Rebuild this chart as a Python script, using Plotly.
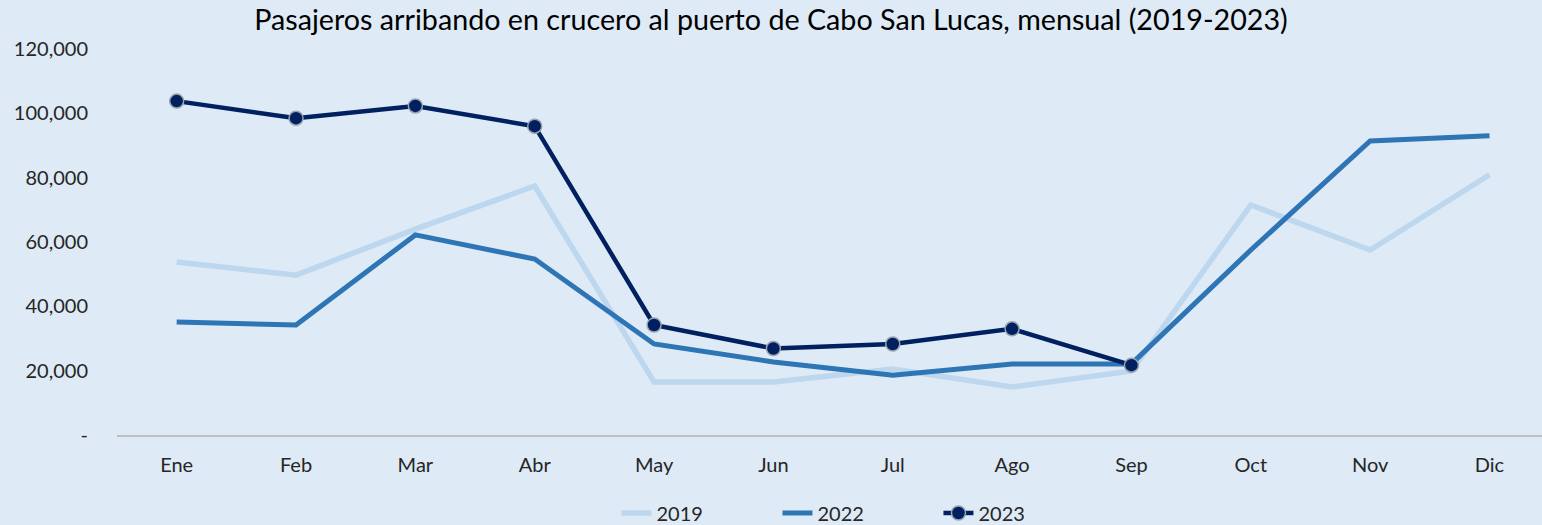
import plotly.graph_objects as go

months = ["Ene", "Feb", "Mar", "Abr", "May", "Jun", "Jul", "Ago", "Sep", "Oct", "Nov", "Dic"]
y2019 = [53800, 49700, 64000, 77400, 16500, 16500, 20500, 14900, 19900, 71500, 57500, 80900]
y2022 = [35100, 34200, 62200, 54700, 28300, 22700, 18600, 22100, 22100, 57500, 91400, 93000]
y2023 = [103800, 98500, 102300, 96000, 34200, 26900, 28300, 33000, 21700]

ytick_vals = [0, 20000, 40000, 60000, 80000, 100000, 120000]
ytick_text = ["-", "20,000", "40,000", "60,000", "80,000", "100,000", "120,000"]

title = "Pasajeros arribando en crucero al puerto de Cabo San Lucas, mensual (2019-2023)"

BG = "#DEEAF6"
FONT = "Lato"

fig = go.Figure()
fig.add_trace(go.Scatter(
    x=months, y=y2019, name="2019", mode="lines",
    line=dict(color="#BDD7EE", width=5.5),
))
fig.add_trace(go.Scatter(
    x=months, y=y2022, name="2022", mode="lines",
    line=dict(color="#2E75B6", width=5),
))
fig.add_trace(go.Scatter(
    x=months[:len(y2023)], y=y2023, name="2023", mode="lines+markers",
    line=dict(color="#002060", width=4.5),
    marker=dict(size=14, color="#002060", line=dict(color="#9AA3AF", width=1.5)),
))

fig.update_layout(
    width=1542, height=525,
    paper_bgcolor=BG, plot_bgcolor=BG,
    margin=dict(l=117, r=0, t=49, b=90, autoexpand=False),
    font=dict(family=FONT, size=20, color="#262626"),
    title=dict(text=title, x=0.5, xanchor="center", y=0.962, yanchor="middle",
               font=dict(family=FONT, size=28.7, color="#000000")),
    showlegend=True,
    legend=dict(orientation="h", x=0.3505, xanchor="left", y=-0.202, yanchor="middle",
                bgcolor="rgba(0,0,0,0)", font=dict(size=20, color="#262626"),
                entrywidth=116, entrywidthmode="pixels", traceorder="normal"),
    hovermode=False,
)
fig.update_xaxes(
    type="category", range=[-0.5, 11.44],
    showgrid=False, zeroline=False,
    showline=True, linecolor="#BFBFBF", linewidth=1.5,
    ticks="", ticklabelstandoff=11,
    tickfont=dict(size=20, color="#262626"),
)
fig.update_yaxes(
    range=[0, 120000], tickvals=ytick_vals, ticktext=ytick_text,
    showgrid=False, zeroline=False, showline=False,
    ticks="", ticklabelstandoff=28,
    tickfont=dict(size=20, color="#262626"),
)

fig.write_html(
    "out.html",
    config={"displayModeBar": False},
    post_script="document.body.style.margin='0';document.body.style.overflow='hidden';",
)
